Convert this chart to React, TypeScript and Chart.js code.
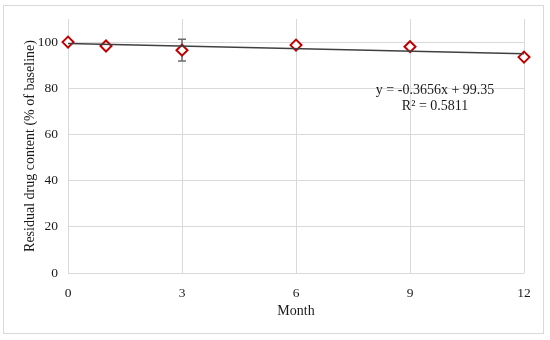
import React, { useEffect, useRef } from "react";
import { Chart, registerables } from "chart.js";

Chart.register(...registerables);

const months = [0, 1, 3, 6, 9, 12];
const residual = [100, 98.3, 96.5, 98.7, 98.0, 93.5];
const errors = [0.6, 1.0, 4.7, 1.0, 0.8, 0.6];
const xTicks = [0, 3, 6, 9, 12];
const yTicks = [0, 20, 40, 60, 80, 100];
const slope = -0.3656;
const intercept = 99.35;
const equationText = ["y = -0.3656x + 99.35", "R² = 0.5811"];

const FONT = "'Liberation Serif', 'Times New Roman', serif";

export default function App() {
  const ref = useRef<HTMLCanvasElement | null>(null);

  useEffect(() => {
    document.body.style.margin = "0";
    const canvas = ref.current;
    if (!canvas) return;

    const errorBars = {
      id: "errorBars",
      beforeDatasetsDraw(chart: any) {
        const { ctx, scales } = chart;
        const xs = scales.x;
        const ys = scales.y;
        ctx.save();
        ctx.strokeStyle = "#6b6b6b";
        ctx.lineWidth = 1.5;
        months.forEach((m, i) => {
          const px = xs.getPixelForValue(m);
          const top = ys.getPixelForValue(residual[i] + errors[i]);
          const bot = ys.getPixelForValue(residual[i] - errors[i]);
          ctx.beginPath();
          ctx.moveTo(px, top);
          ctx.lineTo(px, bot);
          ctx.moveTo(px - 4, top);
          ctx.lineTo(px + 4, top);
          ctx.moveTo(px - 4, bot);
          ctx.lineTo(px + 4, bot);
          ctx.stroke();
        });
        ctx.restore();
      },
      afterDraw(chart: any) {
        const { ctx, scales } = chart;
        ctx.save();
        ctx.strokeStyle = "#d9d9d9";
        ctx.lineWidth = 1;
        ctx.strokeRect(3.5, 5.5, 540, 328);
        ctx.fillStyle = "#1a1a1a";
        ctx.font = `14px ${FONT}`;
        ctx.textAlign = "center";
        ctx.textBaseline = "middle";
        const cx = scales.x.getPixelForValue(9.66);
        const cy = scales.y.getPixelForValue(79.2);
        ctx.fillText(equationText[0], cx, cy);
        ctx.fillText(equationText[1], cx, cy + 16);
        ctx.restore();
      },
    };

    const chart = new Chart(canvas, {
      type: "scatter",
      data: {
        datasets: [
          {
            type: "line",
            label: "Trend",
            data: [0, 12].map((x) => ({ x, y: slope * x + intercept })),
            borderColor: "#404040",
            borderWidth: 1.5,
            pointRadius: 0,
            fill: false,
            clip: false,
            order: 0,
          },
          {
            label: "Residual",
            data: months.map((m, i) => ({ x: m, y: residual[i] })),
            pointStyle: "rectRot",
            pointRadius: 5.5,
            pointBorderWidth: 2,
            borderColor: "#C00000",
            backgroundColor: "#ffffff",
            clip: false,
            order: 1,
          } as any,
        ],
      },
      options: {
        animation: false,
        responsive: false,
        layout: { padding: { top: 19, right: 26, left: 0, bottom: 0 } },
        plugins: { legend: { display: false }, tooltip: { enabled: false } },
        scales: {
          x: {
            type: "linear",
            min: 0,
            max: 12,
            afterBuildTicks: (s: any) => {
              s.ticks = xTicks.map((v) => ({ value: v }));
            },
            afterFit: (s: any) => {
              s.height = 67;
            },
            grid: { color: "#d9d9d9", drawTicks: false },
            border: { display: false },
            ticks: {
              padding: 12,
              color: "#1a1a1a",
              font: { family: FONT, size: 13.5 },
            },
            title: {
              display: true,
              text: "Month",
              color: "#1a1a1a",
              font: { family: FONT, size: 14 },
              padding: { top: 0, bottom: 20 },
            },
          },
          y: {
            type: "linear",
            min: 0,
            max: 110,
            afterBuildTicks: (s: any) => {
              s.ticks = yTicks.map((v) => ({ value: v }));
            },
            afterFit: (s: any) => {
              s.width = 68;
            },
            grid: { color: "#d9d9d9", drawTicks: false },
            border: { display: false },
            ticks: {
              padding: 10,
              color: "#1a1a1a",
              font: { family: FONT, size: 13.5 },
            },
            title: {
              display: true,
              text: "Residual drug content (% of baseline)",
              color: "#1a1a1a",
              font: { family: FONT, size: 14 },
              padding: { top: 22, bottom: 0 },
            },
          },
        },
      },
      plugins: [errorBars],
    });

    return () => chart.destroy();
  }, []);

  return (
    <div style={{ width: 550, height: 340, position: "relative" }}>
      <canvas ref={ref} width={550} height={340} />
    </div>
  );
}
